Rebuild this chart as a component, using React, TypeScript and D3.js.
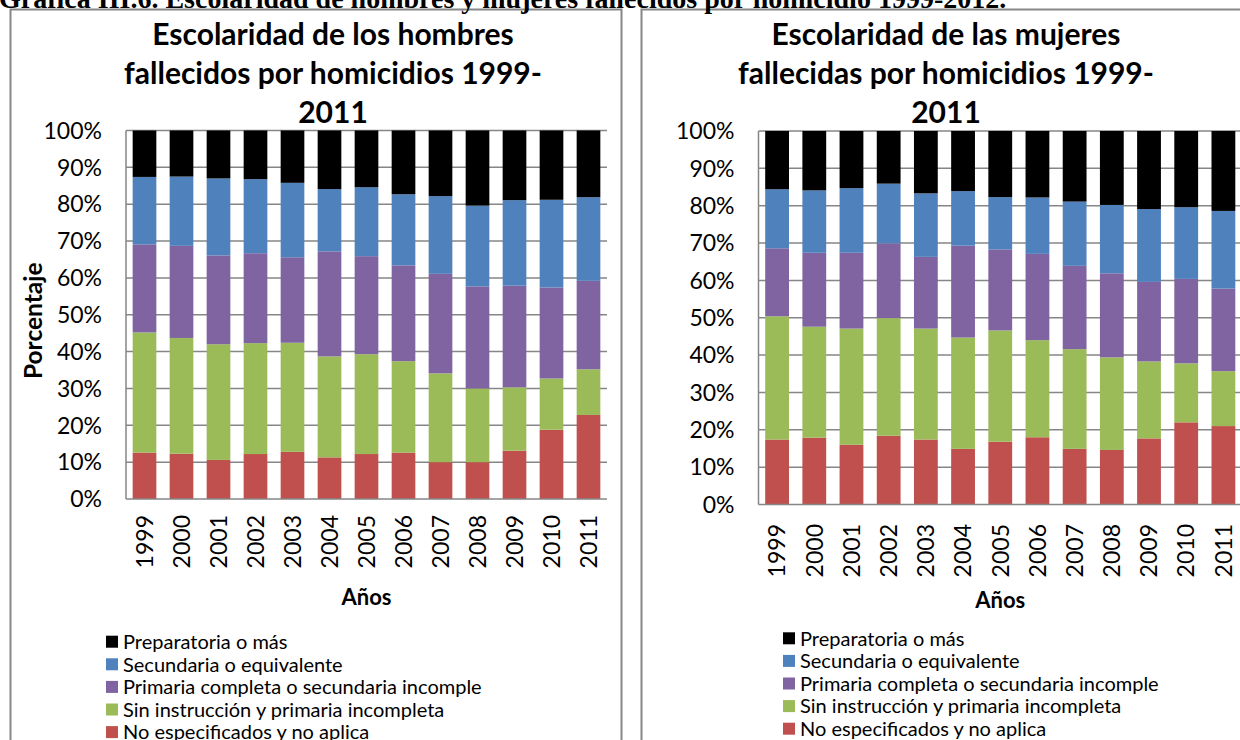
import React from 'react';
import * as d3 from 'd3';

const years = ['1999','2000','2001','2002','2003','2004','2005','2006','2007','2008','2009','2010','2011'];
const seriesNames = [
  'No especificados y no aplica',
  'Sin instrucción y primaria incompleta',
  'Primaria completa o secundaria incomple',
  'Secundaria o equivalente',
  'Preparatoria o más',
];
const seriesColors = ['#C0504D', '#9BBB59', '#8064A2', '#4F81BD', '#000000'];
const yTicks = [0, 10, 20, 30, 40, 50, 60, 70, 80, 90, 100];

// Hombres (%)
const menNoEsp = [12.6, 12.3, 10.6, 12.2, 12.8, 11.3, 12.2, 12.6, 10.0, 10.0, 13.1, 18.8, 22.8];
const menSinInst = [32.6, 31.4, 31.4, 30.1, 29.6, 27.4, 27.1, 24.8, 24.1, 20.0, 17.2, 13.9, 12.4];
const menPrimaria = [23.9, 25.0, 24.1, 24.4, 23.2, 28.5, 26.6, 26.0, 27.0, 27.7, 27.6, 24.7, 24.0];
const menSecundaria = [18.3, 18.8, 20.9, 20.1, 20.2, 16.9, 18.7, 19.3, 21.1, 21.9, 23.2, 23.8, 22.7];
const menPrepa = [12.6, 12.5, 13.0, 13.2, 14.2, 15.9, 15.4, 17.3, 17.8, 20.4, 18.9, 18.8, 18.1];

// Mujeres (%)
const womenNoEsp = [17.4, 17.9, 16.0, 18.4, 17.4, 14.9, 16.8, 18.0, 14.9, 14.6, 17.7, 22.0, 21.0];
const womenSinInst = [33.0, 29.7, 31.1, 31.5, 29.7, 29.8, 29.8, 26.0, 26.7, 24.8, 20.6, 15.8, 14.7];
const womenPrimaria = [18.2, 19.8, 20.3, 20.0, 19.2, 24.6, 21.7, 23.1, 22.3, 22.5, 21.3, 22.6, 22.1];
const womenSecundaria = [15.8, 16.7, 17.3, 16.0, 17.0, 14.6, 14.0, 15.1, 17.2, 18.3, 19.5, 19.2, 20.8];
const womenPrepa = [15.6, 15.9, 15.3, 14.1, 16.7, 16.1, 17.7, 17.8, 18.9, 19.8, 20.9, 20.4, 21.4];

const mainTitle = 'Gráfica III.6. Escolaridad de hombres y mujeres fallecidos por homicidio 1999-2012.';
const menTitle = ['Escolaridad de los hombres', 'fallecidos por homicidios 1999-', '2011'];
const womenTitle = ['Escolaridad de las mujeres', 'fallecidas por homicidios 1999-', '2011'];

const FONT = 'Lato, "Open Sans", sans-serif';
const GRID = '#868686';

type Cfg = {
  frameX: number; frameW: number;
  left: number; right: number; top: number; bottom: number;
  titleX: number; titleY: number; xLabelY: number; anosY: number;
  legendX: number; legendY: number; yLabel: boolean;
};

function StackChart({ cfg, series, title }: { cfg: Cfg; series: number[][]; title: string[] }) {
  const keys = seriesNames;
  const rows = years.map((yr, i) => {
    const r: any = { year: yr };
    keys.forEach((k, j) => { r[k] = series[j][i]; });
    return r;
  });
  const stacked = d3.stack<any>().keys(keys)(rows);
  const x = d3.scaleBand<string>().domain(years).range([cfg.left, cfg.right]).paddingInner(0.36).paddingOuter(0.18);
  const y = d3.scaleLinear().domain([0, 100]).range([cfg.bottom, cfg.top]);
  const cx = (cfg.left + cfg.right) / 2;
  const legendOrder = [4, 3, 2, 1, 0];
  return (
    <g>
      <rect x={cfg.frameX} y={9.5} width={cfg.frameW} height={800} fill="white" stroke="#878787" strokeWidth={2} />
      {title.map((t, i) => (
        <text key={i} x={cfg.titleX} y={cfg.titleY + i * 39} textAnchor="middle" fontFamily={FONT} fontWeight="bold" fontSize={30} fill="#000">{t}</text>
      ))}
      {yTicks.filter(t => t > 0).map(t => (
        <line key={t} x1={cfg.left} x2={cfg.right} y1={y(t)} y2={y(t)} stroke={GRID} strokeWidth={1.5} />
      ))}
      {stacked.map((layer, j) => (
        <g key={j} fill={seriesColors[j]}>
          {layer.map((d, i) => (
            <rect key={i} x={x(years[i])} width={x.bandwidth()} y={y(d[1])} height={y(d[0]) - y(d[1])} />
          ))}
        </g>
      ))}
      <line x1={cfg.left} x2={cfg.left} y1={cfg.top} y2={cfg.bottom} stroke={GRID} strokeWidth={1.5} />
      <line x1={cfg.left} x2={cfg.right} y1={cfg.bottom} y2={cfg.bottom} stroke={GRID} strokeWidth={1.5} />
      {yTicks.map(t => (
        <text key={t} x={cfg.left - 24} y={y(t)} dy="0.36em" textAnchor="end" fontFamily={FONT} fontSize={23} fill="#000">{t}%</text>
      ))}
      {years.map(yr => (
        <text key={yr} transform={`translate(${x(yr)! + x.bandwidth() / 2},${cfg.xLabelY}) rotate(-90)`} dy="0.36em" textAnchor="end" fontFamily={FONT} fontSize={23} fill="#000">{yr}</text>
      ))}
      <text x={cx} y={cfg.anosY} dy="0.36em" textAnchor="middle" fontFamily={FONT} fontWeight="bold" fontSize={22} fill="#000">Años</text>
      {cfg.yLabel && (
        <text transform={`translate(33,${(cfg.top + cfg.bottom) / 2 + 6}) rotate(-90)`} dy="0.36em" textAnchor="middle" fontFamily={FONT} fontWeight="bold" fontSize={24.5} fill="#000">Porcentaje</text>
      )}
      {legendOrder.map((j, k) => (
        <g key={j} transform={`translate(${cfg.legendX},${cfg.legendY + k * 22.6})`}>
          <rect x={0} y={-6} width={12} height={12} fill={seriesColors[j]} />
          <text x={17} y={0} dy="0.36em" fontFamily={FONT} fontSize={20} fill="#000">{seriesNames[j]}</text>
        </g>
      ))}
    </g>
  );
}

const menCfg: Cfg = {
  frameX: 10.5, frameW: 611, left: 126, right: 607, top: 130.5, bottom: 499,
  titleX: 333, titleY: 45, xLabelY: 515, anosY: 597, legendX: 106, legendY: 641.7, yLabel: true,
};
const womenCfg: Cfg = {
  frameX: 641.5, frameW: 700, left: 758.5, right: 1242, top: 131, bottom: 504.5,
  titleX: 946, titleY: 45, xLabelY: 524, anosY: 600, legendX: 783, legendY: 638.3, yLabel: false,
};

export default function App() {
  const men = [menNoEsp, menSinInst, menPrimaria, menSecundaria, menPrepa];
  const women = [womenNoEsp, womenSinInst, womenPrimaria, womenSecundaria, womenPrepa];
  return (
    <svg width={1240} height={740} style={{ position: 'absolute', left: 0, top: 0, background: 'white' }}>
      <rect width={1240} height={740} fill="white" />
      <StackChart cfg={menCfg} series={men} title={menTitle} />
      <StackChart cfg={womenCfg} series={women} title={womenTitle} />
      <text x={-1} y={7.5} fontFamily='"Liberation Serif", "Times New Roman", serif' fontWeight="bold" fontSize={28} fill="#000">{mainTitle}</text>
    </svg>
  );
}
